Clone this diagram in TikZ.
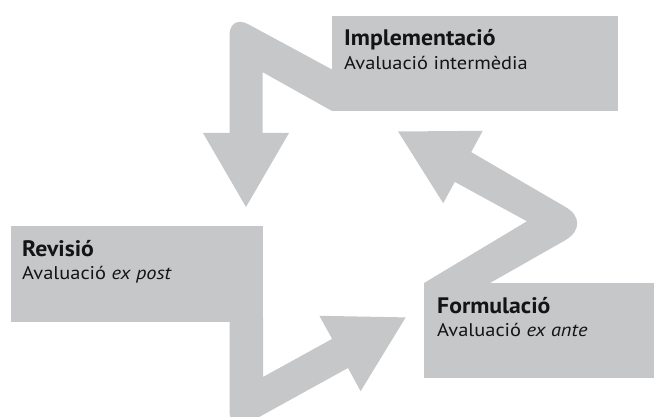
\documentclass[tikz,border=0pt]{standalone}
\usepackage{fontspec}
\setmainfont{PT Sans}
\newfontfamily\headfont[FakeStretch=1.06]{PT Sans}
\newfontfamily\subfont[FakeStretch=1.11]{PT Sans}
\definecolor{band}{RGB}{198,199,201}
\definecolor{ink}{RGB}{20,20,20}
\tikzset{
  shapefill/.style={fill=band, draw=none},
  stagebox/.style={fill=band, draw=none, anchor=north west, inner sep=0pt, outer sep=0pt},
  headtext/.style={anchor=base west, inner sep=0pt, text=ink, font=\headfont\fontsize{22.4}{23}\selectfont\bfseries},
  subtext/.style={anchor=base west, inner sep=0pt, text=ink, font=\subfont\fontsize{18.4}{19}\selectfont},
}
\begin{document}
\begin{tikzpicture}[x=1pt,y=-1pt]
\useasboundingbox (0,0) rectangle (654,417);
\clip (0,0) rectangle (654,417);

% Arrow: Implementacio -> Revisio
\fill[shapefill] (340,73.8) -- (340,111) -- (332,111) -- (262.5,72.1) -- (262.5,133)
  -- (289,133) -- (246,207) -- (203,133) -- (229.5,133) -- (229.5,35.1)
  .. controls (229.5,23.55) and (237.8,18.6) .. (248.0,24.1) -- (332,69.5) -- cycle;

% Arrow: Revisio -> Formulacio
\fill[shapefill] (229.5,318) -- (229.5,411.3)
  .. controls (229.5,423.4) and (238.2,428.5) .. (248.8,422.7)
  -- (348,368) -- (360.6,391.2) -- (405.7,317.4) -- (319.4,315.8) -- (332.1,338.9)
  -- (263,377) -- (263,318) -- cycle;

% Arrow: Formulacio -> Implementacio
\fill[shapefill] (424,287) -- (424,283) -- (526.9,221.3) -- (454.8,181.9) -- (443.2,203.2)
  -- (398.1,131.5) -- (482.8,130.8) -- (471.2,152.1) -- (564.5,206.4)
  .. controls (581.4,215.6) and (581.5,231.0) .. (564.8,240.5)
  -- (490,283) -- (490,287) -- cycle;

% Boxes
\node[stagebox, minimum width=286, minimum height=95] (impl) at (332,16) {};
\node[stagebox, minimum width=252, minimum height=96] (rev) at (11,226) {};
\node[stagebox, minimum width=230, minimum height=95] (form) at (424,283) {};

% Texts
\node[headtext] (implh) at (344,46) {Implementació};
\node[subtext] (impls) at (344,69.5) {Avaluació intermèdia};
\node[headtext] (revh) at (22,256.5) {Revisió};
\node[subtext] (revs) at (22,279.5) {Avaluació \textit{ex post}};
\node[headtext] (formh) at (437,313.5) {Formulació};
\node[subtext] (forms) at (437,336.5) {Avaluació \textit{ex ante}};
\end{tikzpicture}
\end{document}
